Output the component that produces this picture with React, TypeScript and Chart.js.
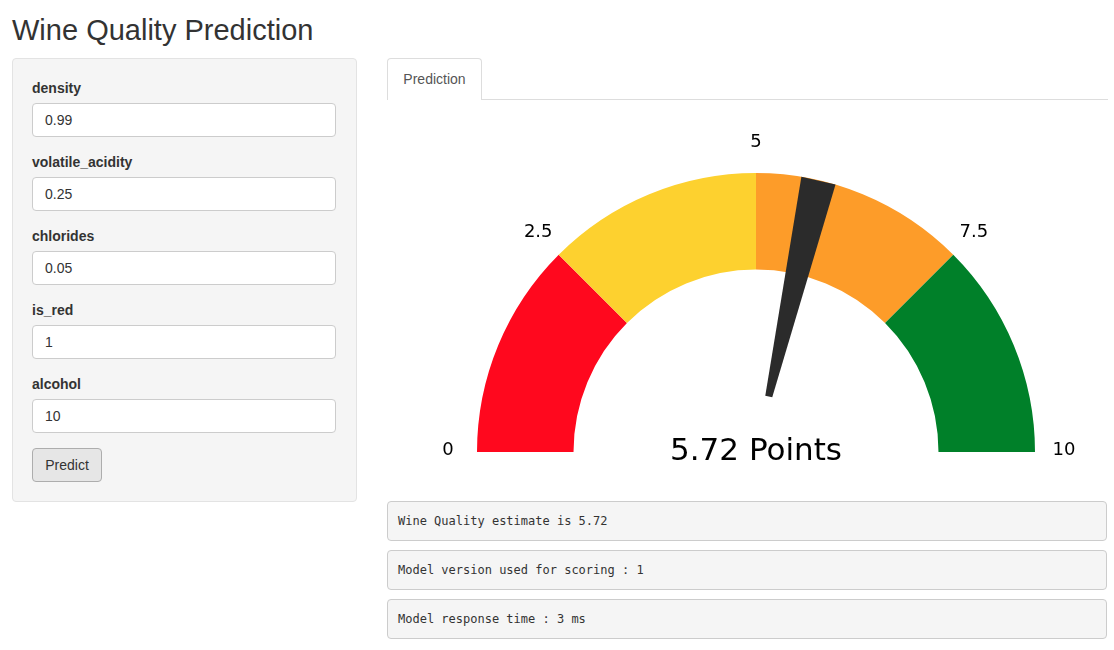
import { useEffect, useRef } from "react"
import { Chart, registerables } from "chart.js"

Chart.register(...registerables)

const bandLabels = ["0-2.5", "2.5-5", "5-7.5", "7.5-10"]
const bandSizes = [2.5, 2.5, 2.5, 2.5]
const bandColors = ["#ff081e", "#fdd12f", "#fd9c29", "#008029"]
const tickValues = [0, 2.5, 5, 7.5, 10]
const gaugeMax = 10
const score = 5.72

const inputs = [
  { name: "density", value: "0.99" },
  { name: "volatile_acidity", value: "0.25" },
  { name: "chlorides", value: "0.05" },
  { name: "is_red", value: "1" },
  { name: "alcohol", value: "10" },
]

const messages = [
  "Wine Quality estimate is 5.72",
  "Model version used for scoring : 1",
  "Model response time : 3 ms",
]

const gaugePlugin = {
  id: "gauge",
  afterDatasetsDraw(chart: any) {
    const arc = chart.getDatasetMeta(0).data[0]
    if (!arc) return
    const { x, y, outerRadius } = arc
    const ctx = chart.ctx
    ctx.save()
    // needle as a thin slice
    const a = Math.PI + (score / gaugeMax) * Math.PI
    const half = (3.6 * Math.PI) / 180
    const r0 = 57
    ctx.fillStyle = "#2b2b2b"
    ctx.beginPath()
    ctx.moveTo(x + r0 * Math.cos(a - half), y + r0 * Math.sin(a - half))
    ctx.lineTo(x + outerRadius * Math.cos(a - half), y + outerRadius * Math.sin(a - half))
    ctx.lineTo(x + outerRadius * Math.cos(a + half), y + outerRadius * Math.sin(a + half))
    ctx.lineTo(x + r0 * Math.cos(a + half), y + r0 * Math.sin(a + half))
    ctx.closePath()
    ctx.fill()
    // tick labels
    ctx.fillStyle = "#000"
    ctx.font = "18px 'DejaVu Sans', sans-serif"
    ctx.textAlign = "center"
    ctx.textBaseline = "middle"
    tickValues.forEach((v) => {
      const t = Math.PI + (v / gaugeMax) * Math.PI
      ctx.fillText(String(v), x + 308 * Math.cos(t), y + 308 * Math.sin(t) - 2)
    })
    ctx.font = "31px 'DejaVu Sans', sans-serif"
    ctx.textBaseline = "alphabetic"
    ctx.fillText(`${score} Points`, x, y + 8)
    ctx.restore()
  },
}

function Gauge() {
  const ref = useRef<HTMLCanvasElement>(null)
  useEffect(() => {
    if (!ref.current) return
    const chart = new Chart(ref.current, {
      type: "doughnut",
      data: {
        labels: bandLabels,
        datasets: [
          {
            data: bandSizes,
            backgroundColor: bandColors,
            borderWidth: 0,
          },
        ],
      },
      options: {
        animation: false,
        responsive: false,
        rotation: -90,
        circumference: 180,
        radius: 279,
        cutout: 139,
        plugins: { legend: { display: false }, tooltip: { enabled: false } },
      },
      plugins: [gaugePlugin],
    })
    return () => chart.destroy()
  }, [])
  return (
    <canvas
      ref={ref}
      width={712}
      height={425}
      style={{ position: "absolute", left: 400, top: 100, width: 712, height: 425 }}
    />
  )
}

export default function App() {
  const font = "'Liberation Sans', Arial, sans-serif"
  return (
    <div style={{ position: "absolute", left: 0, top: 0, width: 1114, height: 650, fontFamily: font, color: "#333" }}>
      <div style={{ position: "absolute", left: 12, top: 14, fontSize: 29, fontWeight: 500 }}>Wine Quality Prediction</div>
      <div
        style={{
          position: "absolute",
          left: 12,
          top: 58,
          width: 343,
          height: 442,
          background: "#f5f5f5",
          border: "1px solid #e3e3e3",
          borderRadius: 4,
        }}
      />
      {inputs.map((inp, i) => (
        <div key={inp.name}>
          <div style={{ position: "absolute", left: 32, top: 80 + i * 74, fontSize: 14, fontWeight: 700 }}>{inp.name}</div>
          <div
            style={{
              position: "absolute",
              left: 32,
              top: 103 + i * 74,
              width: 290,
              height: 32,
              background: "#fff",
              border: "1px solid #ccc",
              borderRadius: 4,
              fontSize: 14,
              lineHeight: "32px",
              paddingLeft: 12,
            }}
          >
            {inp.value}
          </div>
        </div>
      ))}
      <div
        style={{
          position: "absolute",
          left: 32,
          top: 448,
          width: 68,
          height: 32,
          background: "#e6e6e6",
          border: "1px solid #adadad",
          borderRadius: 4,
          fontSize: 14,
          lineHeight: "32px",
          textAlign: "center",
        }}
      >
        Predict
      </div>
      <div style={{ position: "absolute", left: 387, top: 99, width: 721, height: 1, background: "#ddd" }} />
      <div
        style={{
          position: "absolute",
          left: 387,
          top: 58,
          width: 93,
          height: 41,
          background: "#fff",
          border: "1px solid #ddd",
          borderBottom: "none",
          borderRadius: "4px 4px 0 0",
          fontSize: 14,
          lineHeight: "41px",
          textAlign: "center",
          color: "#555",
        }}
      >
        Prediction
      </div>
      <Gauge />
      {messages.map((m, i) => (
        <div
          key={m}
          style={{
            position: "absolute",
            left: 387,
            top: 501 + i * 49,
            width: 708,
            height: 38,
            background: "#f5f5f5",
            border: "1px solid #ccc",
            borderRadius: 4,
            fontFamily: "'DejaVu Sans Mono', monospace",
            fontSize: 12,
            lineHeight: "38px",
            paddingLeft: 10,
            color: "#333",
          }}
        >
          {m}
        </div>
      ))}
    </div>
  )
}
